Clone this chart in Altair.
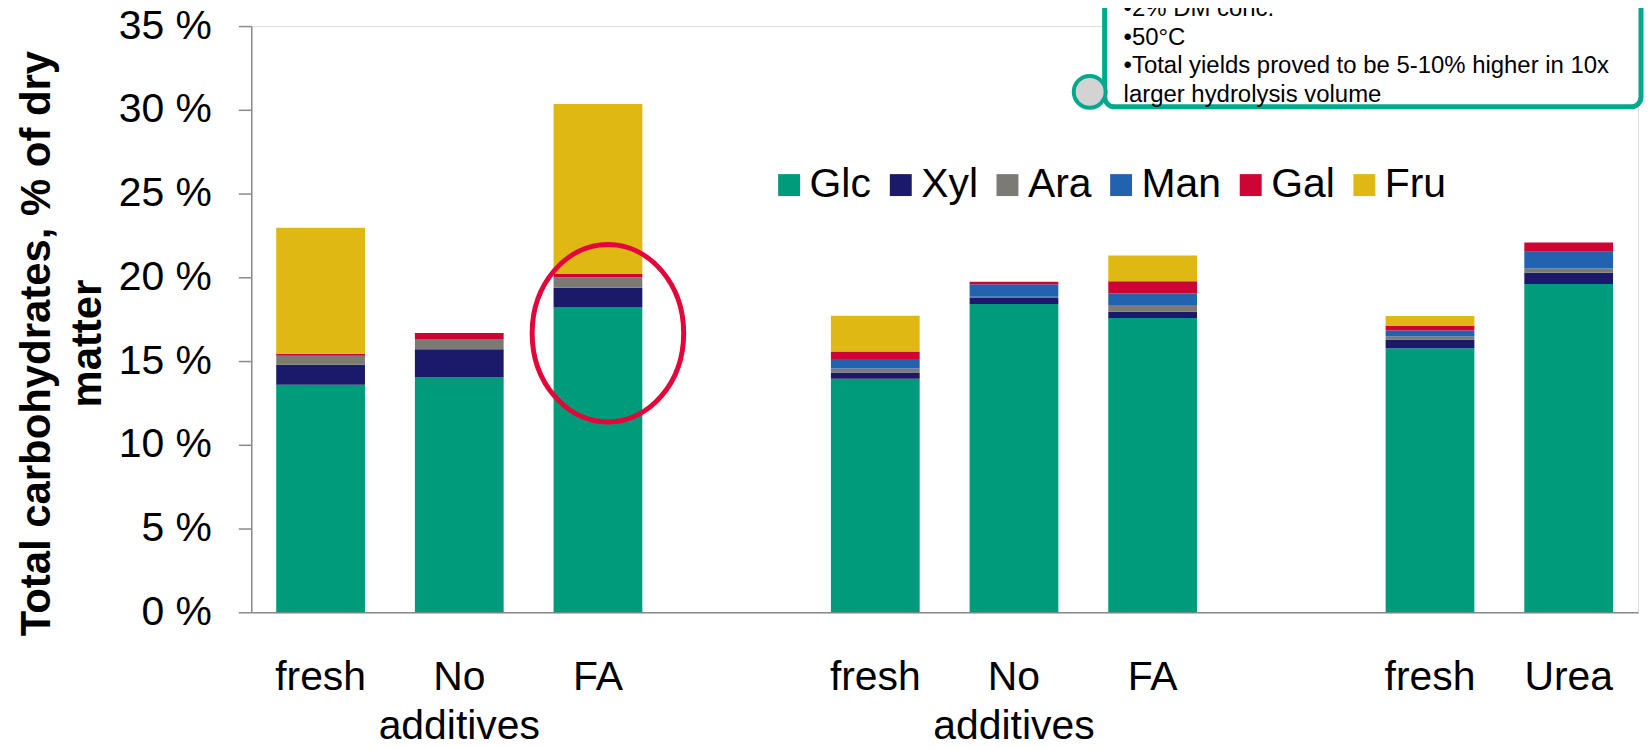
import altair as alt
import pandas as pd

FONT = "Liberation Sans"

sugars = ["Glc", "Xyl", "Ara", "Man", "Gal", "Fru"]
colors = ["#009B7A", "#1B1A6A", "#7B7A75", "#2163AF", "#CD0534", "#DFB814"]

slot_labels = ["fresh", "No|additives", "FA", "", "fresh", "No|additives", "FA", "", "fresh", "Urea"]
slot_keys = [f"{i}:{lab}" for i, lab in enumerate(slot_labels)]
bar_slots = [0, 1, 2, 4, 5, 6, 8, 9]

glc = [13.59, 14.02, 18.19, 13.94, 18.41, 17.57, 15.77, 19.60]
xyl = [1.19, 1.69, 1.19, 0.38, 0.35, 0.38, 0.51, 0.67]
ara = [0.53, 0.60, 0.61, 0.24, 0.08, 0.40, 0.18, 0.26]
man = [0.00, 0.00, 0.00, 0.56, 0.74, 0.69, 0.36, 0.99]
gal = [0.12, 0.37, 0.20, 0.45, 0.15, 0.73, 0.28, 0.56]
fru = [7.53, 0.00, 10.16, 2.13, 0.00, 1.53, 0.59, 0.00]

y_ticks = [0, 5, 10, 15, 20, 25, 30, 35]
y_title = ["Total carbohydrates, % of dry", "matter"]
box_lines = ["\u20222% DM conc.", "\u202250\u00b0C",
             "\u2022Total yields proved to be 5-10% higher in 10x",
             "larger hydrolysis volume"]

rows = []
series = [glc, xyl, ara, man, gal, fru]
for j, vals in enumerate(series):
    for b, v in zip(bar_slots, vals):
        rows.append({"slot": slot_keys[b], "sugar": sugars[j], "order": j, "value": v})
df = pd.DataFrame(rows)

xscale = alt.Scale(domain=slot_keys, paddingInner=0.36, paddingOuter=0.18)
yscale = alt.Scale(domain=[0, 35], nice=False)

bars = alt.Chart(df).mark_bar().encode(
    x=alt.X("slot:N", scale=xscale, sort=slot_keys,
            axis=alt.Axis(title=None, ticks=False, tickSize=0, labelAngle=0,
                          labelExpr="split(substring(datum.label, indexof(datum.label, ':') + 1), '|')",
                          labelFontSize=41, labelFont=FONT, labelColor="black",
                          labelPadding=45, labelLineHeight=50,
                          domainColor="#8A8A8A", domainWidth=1.5)),
    y=alt.Y("value:Q", stack="zero", scale=yscale,
            axis=alt.Axis(values=y_ticks, labelExpr="datum.value + ' %'", grid=False,
                          domainColor="#8A8A8A", domainWidth=1.5,
                          tickColor="#8A8A8A", tickWidth=1.5, tickSize=13,
                          labelPadding=27, labelFontSize=41, labelFont=FONT, labelColor="black",
                          title=y_title, titleFont=FONT, titleFontSize=42, titleFontWeight="bold",
                          titleColor="black", titleX=-202, titleY=318, titleAngle=270,
                          titleAlign="center", titleBaseline="alphabetic", titleLineHeight=51)),
    color=alt.Color("sugar:N", scale=alt.Scale(domain=sugars, range=colors),
                    legend=alt.Legend(title=None, orient="none", direction="horizontal",
                                      legendX=519, legendY=139, padding=0,
                                      gridAlign="none",
                                      symbolType="square", symbolSize=484, symbolStrokeWidth=0,
                                      labelFontSize=41, labelFont=FONT, labelColor="black",
                                      labelOffset=0, columnPadding=9, labelLimit=400)),
    order=alt.Order("order:Q", sort="ascending"),
)

# red ellipse annotation around the FA bar of the first group
ell_a = 0.854
k = 0.5523
ell_path = (f"M {-ell_a} 0 C {-ell_a} {-k}, {-ell_a*k} -1, 0 -1 "
            f"C {ell_a*k} -1, {ell_a} {-k}, {ell_a} 0 "
            f"C {ell_a} {k}, {ell_a*k} 1, 0 1 "
            f"C {-ell_a*k} 1, {-ell_a} {k}, {-ell_a} 0 Z")
ell_df = pd.DataFrame({"slot": [slot_keys[2]], "value": [16.66]})
ellipse = alt.Chart(ell_df).mark_point(
    shape=ell_path, size=178 * 178, filled=False, stroke="#E2063A",
    strokeWidth=5, opacity=1, xOffset=10
).encode(x=alt.X("slot:N", scale=xscale), y=alt.Y("value:Q", scale=yscale))

one = pd.DataFrame({"a": [0]})
box = alt.Chart(one).mark_rect(
    fill="white", stroke="#00A98C", strokeWidth=5, cornerRadius=10
).encode(x=alt.value(856), x2=alt.value(1394), y=alt.value(-60), y2=alt.value(81))

curl = alt.Chart(one).mark_point(
    shape="circle", size=1024, filled=True, fill="#D3D3D3", stroke="#00A98C",
    strokeWidth=4, opacity=1
).encode(x=alt.value(841), y=alt.value(66))

box_text = alt.Chart(one).mark_text(
    align="left", baseline="alphabetic", fontSize=24, font=FONT, color="black",
    lineHeight=28.7
).encode(x=alt.value(875), y=alt.value(-10), text=alt.value(box_lines))

chart = alt.layer(bars, ellipse, box, curl, box_text).properties(
    width=1391, height=588,
    autosize=alt.AutoSizeParams(type="none"),
    padding={"left": 244, "top": 17, "right": 6, "bottom": 134},
).configure_view(stroke=None).configure(background="white")

chart.save("out.html", embed_options={"renderer": "svg", "actions": False})
